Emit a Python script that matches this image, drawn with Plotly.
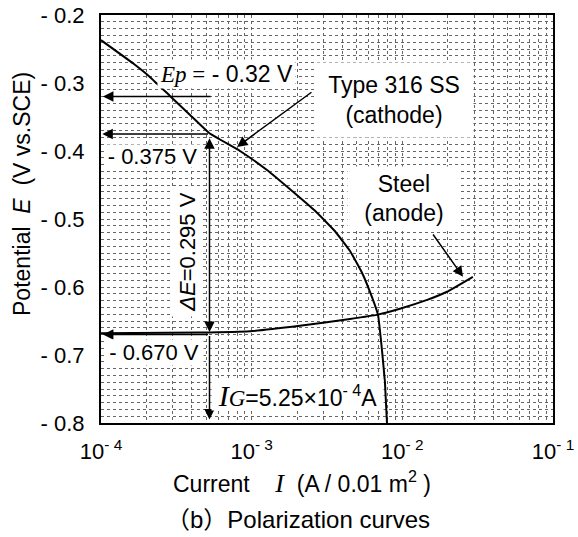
import math
import plotly.graph_objects as go

# ---- data ----
cathode_I = [1.0e-4, 1.63e-4, 2.11e-4, 2.87e-4, 3.9e-4, 5.25e-4, 8.37e-4, 1.264e-3,
             1.881e-3, 2.633e-3, 3.574e-3, 4.495e-3, 5.399e-3, 6.289e-3, 6.894e-3,
             7.328e-3, 7.67e-3, 7.91e-3]
cathode_E = [-0.237, -0.271, -0.291, -0.319, -0.347, -0.374, -0.400, -0.428,
             -0.460, -0.488, -0.518, -0.547, -0.579, -0.615, -0.641,
             -0.693, -0.741, -0.800]

anode_I = [1.0e-4, 4.54e-4, 9.75e-4, 2.09e-3, 4.49e-3, 6.77e-3, 9.64e-3, 1.46e-2,
           1.98e-2, 2.94e-2]
anode_E = [-0.668, -0.667, -0.665, -0.657, -0.647, -0.641, -0.632, -0.619,
           -0.607, -0.585]

Ep = -0.32
E_c = -0.375
E_a = -0.670
I_G = 5.25e-4

y_tickvals = [-0.2, -0.3, -0.4, -0.5, -0.6, -0.7, -0.8]
y_ticktext = ["- 0.2", "- 0.3", "- 0.4", "- 0.5", "- 0.6", "- 0.7", "- 0.8"]
x_tickvals = [1e-4, 1e-3, 1e-2, 1e-1]
x_ticktext = ["10<sup>- 4</sup>", "10<sup>- 3</sup>", "10<sup>- 2</sup>", "10<sup>- 1</sup>"]

SANS = "Liberation Sans, Arial, Noto Sans CJK JP"
SERIF = "Liberation Serif"
lg = math.log10

fig = go.Figure()
fig.add_trace(go.Scatter(x=cathode_I, y=cathode_E, mode="lines",
                         line=dict(color="black", width=2, shape="spline", smoothing=0.3),
                         showlegend=False, hoverinfo="skip"))
fig.add_trace(go.Scatter(x=anode_I, y=anode_E, mode="lines",
                         line=dict(color="black", width=2, shape="spline", smoothing=0.3),
                         showlegend=False, hoverinfo="skip"))

grid = "#666666"
fig.update_xaxes(type="log", range=[-4, -1], tickvals=x_tickvals, ticktext=x_ticktext,
                 showgrid=True, gridcolor=grid, griddash="dot", gridwidth=1,
                 minor=dict(dtick="D1", showgrid=True, gridcolor=grid, griddash="dot", gridwidth=1),
                 showline=True, linecolor="black", linewidth=2, mirror=True,
                 ticks="", ticklabelstandoff=8, zeroline=False, automargin=False,
                 tickfont=dict(family=SANS, size=22, color="black"))
fig.update_yaxes(range=[-0.8, -0.2], tickvals=y_tickvals, ticktext=y_ticktext,
                 showgrid=True, gridcolor=grid, griddash="dot", gridwidth=1,
                 minor=dict(dtick=0.01, showgrid=True, gridcolor=grid, griddash="dot", gridwidth=1),
                 showline=True, linecolor="black", linewidth=2, mirror=True,
                 ticks="", ticklabelstandoff=10, zeroline=False, automargin=False,
                 tickfont=dict(family=SANS, size=22, color="black"))

ann = []
def arrow(x, y, ax, ay, **kw):
    d = dict(x=lg(x), y=y, ax=lg(ax), ay=ay, xref="x", yref="y", axref="x", ayref="y",
             text="", showarrow=True, arrowhead=2, arrowsize=1.4, arrowwidth=1.5,
             arrowcolor="black")
    d.update(kw)
    ann.append(d)

# horizontal arrows to the potential axis
arrow(1.03e-4, Ep, I_G * 1.04, Ep)
arrow(1.0e-4 * 1.02, E_c, I_G, E_c)
arrow(1.03e-4, E_a, I_G, E_a)
# delta E double arrow
arrow(I_G, E_a + 0.004, I_G, E_c - 0.004, arrowside="end+start", startarrowhead=2,
      startarrowsize=1.4)
# galvanic current arrow
arrow(I_G, -0.795, I_G, E_a)
# label pointers
arrow(10 ** -3.0974, -0.394, 10 ** -2.593, -0.312)
arrow(10 ** -1.597, -0.585, 10 ** -1.803, -0.5206)

def box(x, y, text, w, h, size=23, angle=0):
    ann.append(dict(x=lg(x), y=y, xref="x", yref="y", text=text, showarrow=False,
                    bgcolor="white", width=w, height=h, align="center", valign="middle",
                    textangle=angle, borderpad=0, xanchor="center", yanchor="middle",
                    font=dict(family=SANS, size=size, color="black")))

box(10 ** -3.167, -0.2868,
    f"<span style='font-family:{SERIF}'><i>Ep</i> =</span> - 0.32 V", 137, 28)
box(10 ** -3.658, -0.408, "- 0.375 V", 95, 22, size=22)
box(10 ** -3.648, -0.6963, "- 0.670 V", 98, 25, size=22)
box(10 ** -3.429, -0.5485, "<i>ΔE</i>=0.295 V", 128, 30, size=22, angle=-90)
box(10 ** -2.696, -0.7588,
    f"<span style='font-family:{SERIF};font-size:30px'><i>I</i></span>"
    f"<span style='font-family:{SERIF}'><i>G</i></span>=5.25×10<sup>- 4</sup>A", 171, 30)
box(10 ** -2.055, -0.325, "Type 316 SS<br>(cathode)", 158, 74)
box(10 ** -1.989, -0.4699, "Steel<br>(anode)", 112, 63)

# axis titles and caption
ann.append(dict(x=-0.1748, y=0.5613, xref="paper", yref="paper", showarrow=False,
                xanchor="center", yanchor="middle",
                textangle=-90, text="Potential\u00a0 <i>E</i>\u00a0 (V vs.SCE)",
                font=dict(family=SANS, size=23, color="black")))
ann.append(dict(x=0.445, y=-0.147, xref="paper", yref="paper", showarrow=False,
                xanchor="center", yanchor="middle",
                text=f"Current\u00a0\u00a0\u00a0 <span style='font-family:{SERIF};font-size:26px'><i>I</i></span>"
                     "\u00a0 (A / 0.01 m<sup>2</sup> )",
                font=dict(family=SANS, size=23, color="black")))
ann.append(dict(x=0.4358, y=-0.2353, xref="paper", yref="paper", showarrow=False,
                xanchor="center", yanchor="middle",
                text="（b）Polarization curves",
                font=dict(family=SANS, size=24, color="black")))

fig.update_layout(width=578, height=537,
                  margin=dict(l=101, r=25, t=15, b=114, autoexpand=False),
                  paper_bgcolor="white", plot_bgcolor="white", annotations=ann,
                  showlegend=False)

fig.write_html("out.html", config={"displayModeBar": False},
               post_script="document.body.style.margin='0';document.body.style.padding='0';")
